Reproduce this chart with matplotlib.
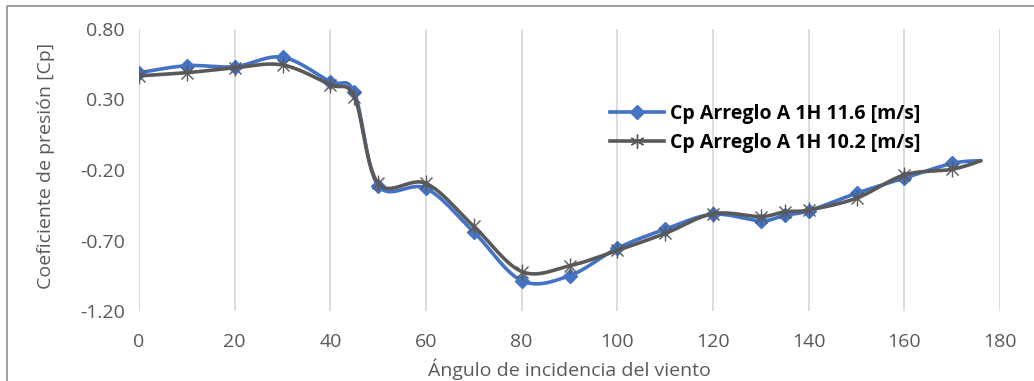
import numpy as np
import matplotlib.pyplot as plt
from matplotlib.lines import Line2D

plt.rcParams['font.family'] = ['Open Sans', 'DejaVu Sans']

# angle of incidence [deg]; last point carries no marker
angles = [0, 10, 20, 30, 40, 45, 50, 60, 70, 80, 90, 100, 110, 120,
          130, 135, 140, 150, 160, 170, 176]

cp_116 = [0.49, 0.54, 0.533, 0.60, 0.426, 0.35, -0.31, -0.33, -0.64, -0.985,
          -0.95, -0.755, -0.62, -0.514, -0.56, -0.52, -0.49, -0.365, -0.257,
          -0.153, -0.134]
cp_102 = [0.467, 0.49, 0.525, 0.545, 0.405, 0.32, -0.295, -0.295, -0.60, -0.92,
          -0.88, -0.77, -0.65, -0.51, -0.53, -0.496, -0.484, -0.40, -0.235,
          -0.195, -0.134]

lab_116 = 'Cp Arreglo A 1H 11.6 [m/s]'
lab_102 = 'Cp Arreglo A 1H 10.2 [m/s]'
yticks = [0.80, 0.30, -0.20, -0.70, -1.20]
xticks = list(range(0, 181, 20))

BLUE = '#4472C4'
GRAY = '#595959'
TXT = '#595959'


def smooth(x, y, n=30):
    # excel-like smoothed line (cubic bezier, catmull-rom control points)
    x = np.asarray(x, float)
    y = np.asarray(y, float)
    p = np.column_stack([x, y])
    pts = []
    for i in range(len(p) - 1):
        p0 = p[i - 1] if i > 0 else p[i]
        p3 = p[i + 2] if i + 2 < len(p) else p[i + 1]
        c1 = p[i] + (p[i + 1] - p0) / 6
        c2 = p[i + 1] - (p3 - p[i]) / 6
        t = np.linspace(0, 1, n)[:, None]
        seg = ((1 - t)**3 * p[i] + 3 * (1 - t)**2 * t * c1
               + 3 * (1 - t) * t**2 * c2 + t**3 * p[i + 1])
        pts.append(seg if i == 0 else seg[1:])
    s = np.vstack(pts)
    return s[:, 0], s[:, 1]


fig = plt.figure(figsize=(10.34, 3.81), dpi=100)
ax = fig.add_axes([139 / 1034, 1 - 311 / 381, (1000 - 139) / 1034, (311 - 29) / 381])

sx, sy = smooth(angles, cp_116)
ax.plot(sx, sy, color=BLUE, lw=2.6, solid_capstyle='round', zorder=3)
ax.plot(angles[:-1], cp_116[:-1], ls='none', marker='D', ms=7,
        color=BLUE, zorder=4)

sx, sy = smooth(angles, cp_102)
ax.plot(sx, sy, color=GRAY, lw=2.6, solid_capstyle='round', zorder=5)
ax.plot(angles[:-1], cp_102[:-1], ls='none', marker='x', ms=9, mew=1.0,
        color=GRAY, zorder=6)
ax.plot(angles[:-1], cp_102[:-1], ls='none', marker='|', ms=11, mew=1.0,
        color=GRAY, zorder=6)

ax.set_xlim(0, 180)
ax.set_ylim(-1.20, 0.80)
ax.set_xticks(xticks)
ax.set_yticks(yticks)
ax.set_yticklabels([f'{v:.2f}' for v in yticks])
ax.tick_params(length=0, labelsize=14, colors=TXT, pad=10)
ax.tick_params(axis='x', pad=16)
ax.grid(axis='x', color='#d9d9d9', lw=1.3)
ax.grid(axis='y', visible=False)
for s in ax.spines.values():
    s.set_visible(False)

ax.set_xlabel('Ángulo de incidencia del viento', fontsize=14, color=TXT, labelpad=5)
fig.text(46 / 1034, 1 - 166 / 381, 'Coeficiente de presión [Cp]', rotation=90,
         fontsize=14, color=TXT, ha='center', va='center')

h1 = Line2D([], [], color=BLUE, lw=2.6, marker='D', ms=7)
h2 = Line2D([], [], color=GRAY, lw=2.6, marker=(6, 2, 0), ms=10, mew=1.0)
leg = ax.legend([h1, h2], [lab_116, lab_102], loc='upper left',
                bbox_to_anchor=((602 - 139) / 861, 1 - (96 - 29) / 282),
                frameon=False, prop={'weight': 'bold', 'size': 14},
                handlelength=2.8, handletextpad=0.3, labelspacing=0.45,
                borderaxespad=0)

# chart border (top and left edges visible in the crop)
fig.add_artist(Line2D([7 / 1034, 7 / 1034, 1], [0, 1 - 6 / 381, 1 - 6 / 381],
                      color='#8c8c8c', lw=1.2))

fig.savefig('out.png', dpi=100)
